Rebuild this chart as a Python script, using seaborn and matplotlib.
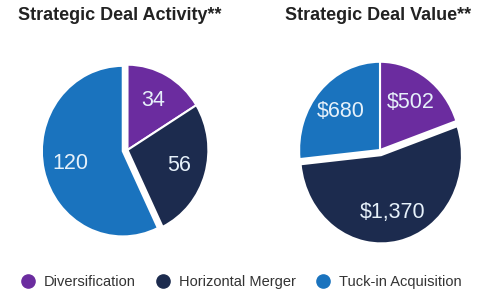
import matplotlib
matplotlib.use("Agg")
import matplotlib.pyplot as plt
from matplotlib.lines import Line2D
import seaborn as sns

categories = ["Diversification", "Horizontal Merger", "Tuck-in Acquisition"]
activity_values = [34, 56, 120]
activity_labels = ["34", "56", "120"]
value_values = [502, 1370, 680]
value_labels = ["$502", "$1,370", "$680"]
titles = ["Strategic Deal Activity**", "Strategic Deal Value**"]

sns.set_theme(style="white")
plt.rcParams['font.family'] = ['Liberation Sans', 'DejaVu Sans']

colors = ["#6B2C9F", "#1C2B4E", "#1A73BE"]

fig = plt.figure(figsize=(5, 3), dpi=100)
fig.patch.set_facecolor("white")

def draw(ax, vals, labels, explode_idx):
    explode = [0.06 if i == explode_idx else 0 for i in range(len(vals))]
    wedges, texts = ax.pie(vals, labels=labels, colors=colors, startangle=90,
                           counterclock=False, explode=explode, labeldistance=0.66,
                           wedgeprops=dict(linewidth=1.5, edgecolor="white"),
                           textprops=dict(color="#E6F1FA", fontsize=15.5, ha="center", va="center"))
    for t in texts:
        t.set_ha("center"); t.set_va("center")
    ax.set_xlim(-1.02, 1.02)
    ax.set_ylim(-1.02, 1.02)
    ax.set_aspect("auto")
    ax.axis("off")

ax1 = fig.add_axes([0.09, 0.21, 0.33, 0.58])
draw(ax1, activity_values, activity_labels, 2)
ax2 = fig.add_axes([0.595, 0.2, 0.33, 0.6])
draw(ax2, value_values, value_labels, 1)

fig.text(0.24, 0.948, titles[0], ha="center", va="center", fontsize=13, fontweight="bold", color="#222222")
fig.text(0.756, 0.948, titles[1], ha="center", va="center", fontsize=13, fontweight="bold", color="#222222")

handles = [Line2D([0], [0], marker="o", linestyle="", markersize=9.5, markerfacecolor=c,
                  markeredgecolor=c) for c in colors]
fig.legend(handles, categories, loc="center", bbox_to_anchor=(0.475, 0.06), ncol=3,
           frameon=False, fontsize=10.5, handletextpad=0.05, columnspacing=0.9,
           labelcolor="#333333")

fig.savefig("out.png", dpi=100, facecolor="white")
